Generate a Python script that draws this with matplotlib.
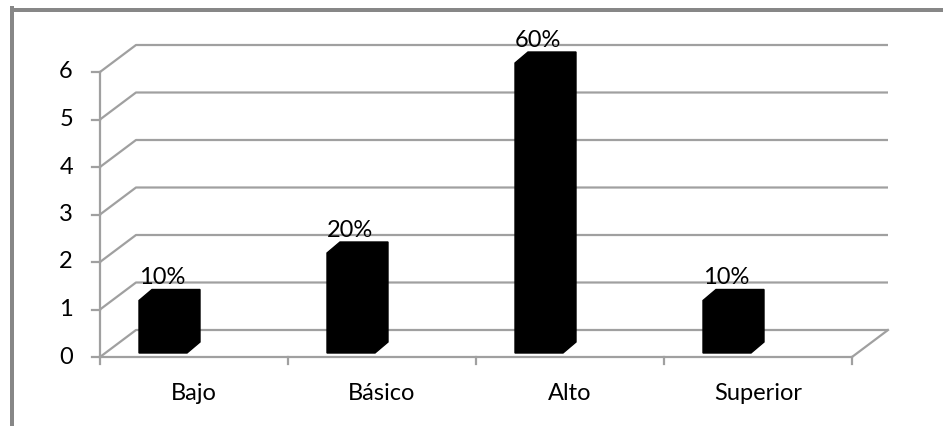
import matplotlib
matplotlib.use("Agg")
import matplotlib.pyplot as plt
from matplotlib.patches import Polygon
from matplotlib.lines import Line2D

plt.rcParams['font.family'] = ['Lato', 'DejaVu Sans']

categories = ["Bajo", "Básico", "Alto", "Superior"]
counts = [1, 2, 6, 1]
percent_labels = ["10%", "20%", "60%", "10%"]
y_ticks = [0, 1, 2, 3, 4, 5, 6]

W, H, DPI = 943, 426, 100
FS = 17
fig = plt.figure(figsize=(W / DPI, H / DPI), dpi=DPI)

# front plane of the plot area in pixels
left_px, right_px, y0_px, y6_px = 100, 852, 357, 72
ax = fig.add_axes([left_px / W, (H - y0_px) / H,
                   (right_px - left_px) / W, (y0_px - y6_px) / H])
ax.set_xlim(0, 4)
ax.set_ylim(0, 6)
ax.axis("off")

px_x = 4 / (right_px - left_px)   # category units per pixel
px_y = 6 / (y0_px - y6_px)        # value units per pixel

# depth offset of the back wall
OX, OY = 36 * px_x, 27 * px_y
grid_c = "#a0a0a0"
glw = 1.6

for v in y_ticks:
    ax.plot([0, OX, 4 + OX], [v, v + OY, v + OY], color=grid_c, lw=glw,
            clip_on=False, solid_capstyle="butt", zorder=1)
# floor front edge and right edge
ax.plot([0, 4], [0, 0], color=grid_c, lw=glw, clip_on=False, zorder=1)
ax.plot([4, 4 + OX], [0, OY], color=grid_c, lw=glw, clip_on=False, zorder=1)
# value axis
ax.plot([0, 0], [0, 6], color=grid_c, lw=glw, clip_on=False, zorder=1)
for v in y_ticks:
    ax.plot([-8 * px_x, 0], [v, v], color=grid_c, lw=glw, clip_on=False, zorder=1)
    ax.text(-27 * px_x, v, str(v), ha="right", va="center", fontsize=FS,
            color="black")
# category ticks
for i in range(len(categories) + 1):
    ax.plot([i, i], [0, -7 * px_y], color=grid_c, lw=glw, clip_on=False, zorder=1)

# 3D boxes
dx, dy = 13 * px_x, 11 * px_y
for i, (cat, v, lab) in enumerate(zip(categories, counts, percent_labels)):
    c = i + 0.5
    x0 = c - 55 * px_x
    x1 = c - 7 * px_x
    yb = 4 * px_y
    yt = v + 9 * px_y
    poly = Polygon([(x0, yb), (x1, yb), (x1 + dx, yb + dy), (x1 + dx, yt + dy),
                    (x0 + dx, yt + dy), (x0, yt)], closed=True,
                   facecolor="black", edgecolor="black", lw=1, clip_on=False,
                   zorder=3)
    ax.add_patch(poly)
    ax.text(x0, yt + dy + 5 * px_y, lab, ha="left", va="baseline",
            fontsize=FS, color="black", zorder=4)
    ax.text(c, -36 * px_y, cat, ha="center", va="center", fontsize=FS,
            color="black")

# chart border
border_c = "#878787"
blw = 4 * 72 / DPI
fig.add_artist(Line2D([11.5 / W, 1.0], [1 - 9.5 / H, 1 - 9.5 / H],
                      color=border_c, lw=blw, transform=fig.transFigure))
fig.add_artist(Line2D([11.5 / W, 11.5 / W], [0.0, 1 - 7.5 / H],
                      color=border_c, lw=blw, transform=fig.transFigure))

fig.savefig("out.png", dpi=DPI)
